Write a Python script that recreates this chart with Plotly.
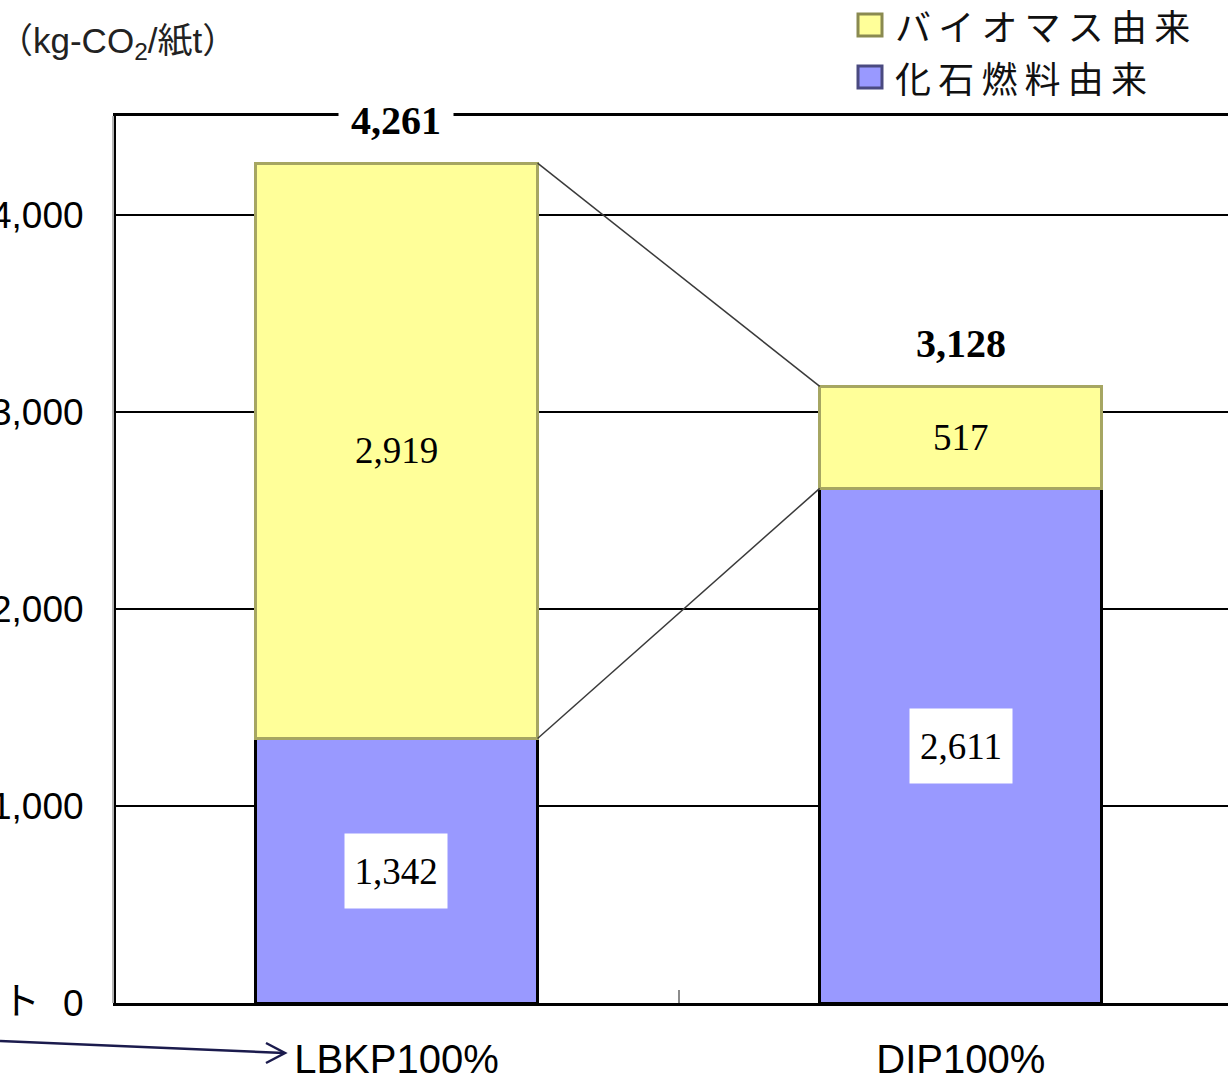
import plotly.graph_objects as go

# Paper-making CO2 emissions per tonne of paper, by pulp furnish
categories = ["LBKP100%", "DIP100%"]
biomass = [2919, 517]      # バイオマス由来
fossil = [1342, 2611]      # 化石燃料由来
series_names = ["バイオマス由来", "化石燃料由来"]
y_ticks = [0, 1000, 2000, 3000, 4000]
unit_label = "（kg-CO<sub>2</sub>/紙t）"

totals = [b + f for b, f in zip(biomass, fossil)]

YELLOW = "#FFFF99"
YELLOW_EDGE = "#A6A662"
BLUE = "#9999FF"
SERIF = "Liberation Serif, Times New Roman, serif"
SANS = "Liberation Sans, Arial, Noto Sans CJK JP, sans-serif"
CJK = "Noto Sans CJK JP, sans-serif"
BAR_W = 0.5

W, H = 1228, 1073
ML, MR, MT, MB = 116, 0, 116, 70
PW, PH = W - ML - MR, H - MT - MB


def px(x):
    return (x - ML) / PW


def py(y):
    return (H - MB - y) / PH


fig = go.Figure()
fig.add_trace(go.Bar(
    x=categories, y=fossil, name=series_names[1], width=BAR_W,
    marker=dict(color=BLUE, line=dict(color="black", width=3)),
    showlegend=False, hoverinfo="skip",
))
fig.add_trace(go.Bar(
    x=categories, y=biomass, name=series_names[0], width=BAR_W,
    marker=dict(color=YELLOW, line=dict(color=YELLOW_EDGE, width=3)),
    showlegend=False, hoverinfo="skip",
))

annotations = []
shapes = []

# Segment value labels and stack totals
for i, cat in enumerate(categories):
    annotations.append(dict(
        x=i, y=fossil[i] + biomass[i] / 2, xref="x", yref="y",
        text=f"{biomass[i]:,}", showarrow=False,
        font=dict(family=SERIF, size=37, color="black"),
    ))
    annotations.append(dict(
        x=i, y=fossil[i] / 2, xref="x", yref="y",
        text=f"{fossil[i]:,}", showarrow=False, bgcolor="white",
        width=100, height=72,
        font=dict(family=SERIF, size=37, color="black"),
    ))
    annotations.append(dict(
        x=i, y=totals[i], xref="x", yref="y", yanchor="middle",
        yshift=43, text=f"<b>{totals[i]:,}</b>", showarrow=False,
        bgcolor="white", width=112, height=40,
        font=dict(family=SERIF, size=40, color="black"),
    ))

# Connector lines between the two stacks
half = BAR_W / 2
for y0, y1 in [(totals[0], totals[1]), (fossil[0], fossil[1])]:
    shapes.append(dict(
        type="line", xref="x", yref="y",
        x0=0 + half, y0=y0, x1=1 - half, y1=y1,
        line=dict(color="#3a3a3a", width=1.5), layer="above",
    ))

# Soft shadow beside the value axis
shapes.append(dict(
    type="line", xref="paper", yref="paper", x0=px(113), x1=px(113),
    y0=0, y1=1, line=dict(color="#b4b4b4", width=2), layer="above",
))

# Unit label
annotations.append(dict(
    x=px(-4), y=py(43), xref="paper", yref="paper", text=unit_label,
    showarrow=False, xanchor="left", yanchor="middle",
    font=dict(family=SANS, size=35, color="#222222"),
))

# Legend, drawn by hand so the swatches are large
legend_rows = [
    (series_names[0], YELLOW, "#8a8a50", 25),
    (series_names[1], BLUE, "#4a4a80", 77),
]
for name, fill, edge, yc in legend_rows:
    shapes.append(dict(
        type="rect", xref="paper", yref="paper",
        x0=px(858), x1=px(882), y0=py(yc - 11), y1=py(yc + 11),
        line=dict(color=edge, width=3), fillcolor=fill,
    ))
    annotations.append(dict(
        x=px(893), y=py(yc), xref="paper", yref="paper",
        text="\u2009".join(name), showarrow=False,
        xanchor="left", yanchor="middle",
        font=dict(family=CJK, size=36, color="#111111"),
    ))

# Text fragment at the left edge and arrow toward the first category
annotations.append(dict(
    x=px(21), y=py(997), xref="paper", yref="paper", text="ト",
    showarrow=False, xanchor="center", yanchor="middle",
    font=dict(family=CJK, size=38, color="black"),
))
arrow_col = "#1b1b4d"
shapes.append(dict(
    type="line", xref="paper", yref="paper",
    x0=px(0), y0=py(1041), x1=px(284), y1=py(1053),
    line=dict(color=arrow_col, width=2.5), layer="above",
))
shapes.append(dict(
    type="path", xref="paper", yref="paper",
    path=(f"M {px(266)} {py(1043)} L {px(285)} {py(1053)} "
          f"L {px(266)} {py(1063)}"),
    line=dict(color=arrow_col, width=2.5), layer="above",
))

fig.update_layout(
    width=W, height=H,
    margin=dict(l=ML, r=MR, t=MT, b=MB, autoexpand=False),
    paper_bgcolor="white", plot_bgcolor="white",
    barmode="stack", showlegend=False,
    annotations=annotations, shapes=shapes,
    xaxis=dict(
        type="category", range=[-0.497, 1.4734],
        showline=True, linecolor="black", linewidth=3, mirror=True,
        showgrid=False, tickson="boundaries", ticks="inside",
        ticklen=13, tickwidth=2, tickcolor="#8c8c8c",
        tickfont=dict(family=SANS, size=40, color="black"),
        ticklabelstandoff=19,
        automargin=False, fixedrange=True,
    ),
    yaxis=dict(
        range=[0, 4500], tickvals=y_ticks,
        ticktext=[f"{v:,}" for v in y_ticks],
        showline=True, linecolor="black", linewidth=3,
        showgrid=True, gridcolor="black", gridwidth=2,
        zeroline=False, ticks="",
        tickfont=dict(family=SANS, size=37, color="black"),
        ticklabelstandoff=22,
        automargin=False, fixedrange=True,
    ),
)

fig.write_html("out.html", config={"displayModeBar": False})
